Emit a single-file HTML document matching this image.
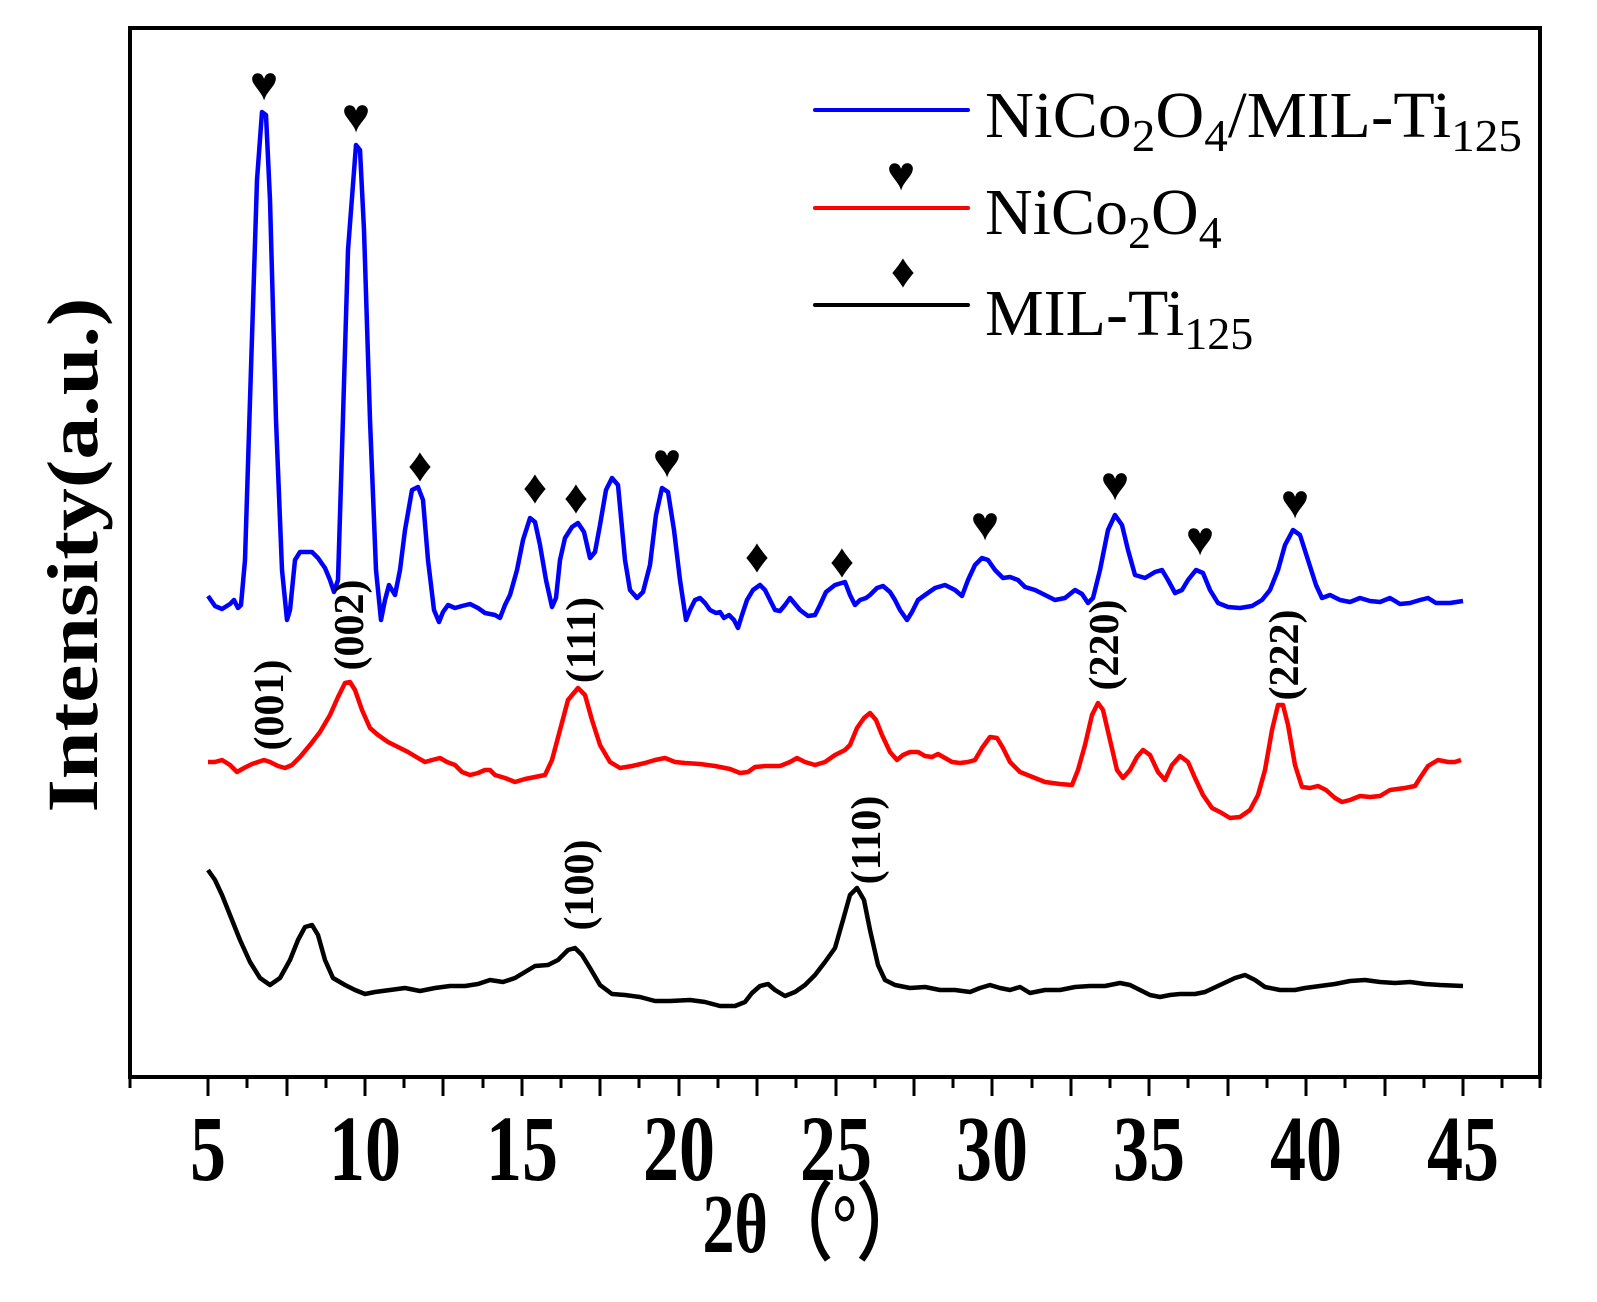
<!DOCTYPE html>
<html><head><meta charset="utf-8"><style>
html,body{margin:0;padding:0;background:#fff;}
svg{display:block;}
text{font-family:"Liberation Serif",serif;}
</style></head><body>
<svg width="1597" height="1302" viewBox="0 0 1597 1302" xmlns="http://www.w3.org/2000/svg">
<rect x="0" y="0" width="1597" height="1302" fill="#fff"/>
<rect x="130" y="28" width="1410" height="1049" fill="none" stroke="#000" stroke-width="4"/>
<g stroke="#000" stroke-width="3">
<line x1="208" y1="1077" x2="208" y2="1096"/><line x1="247" y1="1077" x2="247" y2="1088"/>
<line x1="287" y1="1077" x2="287" y2="1096"/><line x1="326" y1="1077" x2="326" y2="1088"/>
<line x1="365" y1="1077" x2="365" y2="1096"/><line x1="404" y1="1077" x2="404" y2="1088"/>
<line x1="443" y1="1077" x2="443" y2="1096"/><line x1="483" y1="1077" x2="483" y2="1088"/>
<line x1="522" y1="1077" x2="522" y2="1096"/><line x1="561" y1="1077" x2="561" y2="1088"/>
<line x1="600" y1="1077" x2="600" y2="1096"/><line x1="639" y1="1077" x2="639" y2="1088"/>
<line x1="679" y1="1077" x2="679" y2="1096"/><line x1="718" y1="1077" x2="718" y2="1088"/>
<line x1="757" y1="1077" x2="757" y2="1096"/><line x1="796" y1="1077" x2="796" y2="1088"/>
<line x1="836" y1="1077" x2="836" y2="1096"/><line x1="875" y1="1077" x2="875" y2="1088"/>
<line x1="914" y1="1077" x2="914" y2="1096"/><line x1="953" y1="1077" x2="953" y2="1088"/>
<line x1="992" y1="1077" x2="992" y2="1096"/><line x1="1032" y1="1077" x2="1032" y2="1088"/>
<line x1="1071" y1="1077" x2="1071" y2="1096"/><line x1="1110" y1="1077" x2="1110" y2="1088"/>
<line x1="1149" y1="1077" x2="1149" y2="1096"/><line x1="1188" y1="1077" x2="1188" y2="1088"/>
<line x1="1228" y1="1077" x2="1228" y2="1096"/><line x1="1267" y1="1077" x2="1267" y2="1088"/>
<line x1="1306" y1="1077" x2="1306" y2="1096"/><line x1="1345" y1="1077" x2="1345" y2="1088"/>
<line x1="1385" y1="1077" x2="1385" y2="1096"/><line x1="1424" y1="1077" x2="1424" y2="1088"/>
<line x1="1463" y1="1077" x2="1463" y2="1096"/><line x1="1502" y1="1077" x2="1502" y2="1088"/>
<line x1="130" y1="1077" x2="130" y2="1088"/><line x1="1540" y1="1077" x2="1540" y2="1088"/>
</g>
<g transform="translate(0,1180) scale(1,1.3)" font-weight="bold" font-size="72" text-anchor="middle">
<text x="208" y="0">5</text><text x="365" y="0">10</text><text x="522" y="0">15</text>
<text x="679" y="0">20</text><text x="836" y="0">25</text><text x="992" y="0">30</text>
<text x="1149" y="0">35</text><text x="1306" y="0">40</text><text x="1463" y="0">45</text>
</g>
<g transform="translate(812,1252) scale(1,1.3)" font-weight="bold" font-size="64" text-anchor="middle">
<text x="0" y="0">2θ（°）</text>
</g>
<g transform="translate(97,555) rotate(-90)" font-weight="bold" font-size="72" text-anchor="middle">
<text x="0" y="0" textLength="515" lengthAdjust="spacingAndGlyphs">Intensity(a.u.)</text>
</g>
<g fill="none" stroke-width="4.5" stroke-linejoin="round">
<polyline stroke="#0000ff" points="208,596 215,606 222,609 230,604 234,600 238,608 241,605 245,560 250,400 257,180 262,112 266,115 270,200 276,420 282,570 287,620 290,610 295,560 300,552 312,552 318,558 325,568 330,580 334,592 338,580 342,450 348,250 356,145 360,150 364,230 370,420 376,570 381,620 385,600 389,585 392,590 395,595 400,570 405,530 412,490 418,487 423,500 428,560 434,610 439,622 443,612 448,605 455,608 462,606 470,604 478,608 485,613 495,615 500,618 505,605 510,595 517,570 523,540 530,518 535,522 540,545 546,580 552,607 556,598 560,560 565,538 572,527 578,523 584,532 590,558 595,552 600,525 606,490 612,478 618,485 625,560 630,590 637,598 643,592 650,565 656,515 662,488 668,492 674,530 680,580 686,620 690,610 695,600 700,598 705,603 710,610 716,613 720,612 724,618 729,615 734,620 738,628 742,615 747,600 753,590 760,585 765,590 770,600 775,610 780,611 785,605 790,598 795,604 800,610 808,616 815,615 820,605 826,592 835,585 845,582 850,595 855,605 860,600 866,598 870,595 877,588 883,586 890,592 895,600 900,610 907,620 912,612 918,600 925,595 935,588 945,585 955,590 962,596 968,580 975,565 982,558 988,560 995,570 1003,578 1010,577 1018,580 1025,587 1035,590 1045,595 1055,600 1065,598 1075,590 1082,594 1088,603 1093,598 1100,570 1108,530 1115,515 1122,525 1128,550 1135,575 1145,578 1155,572 1162,570 1168,580 1175,593 1182,590 1188,580 1196,570 1203,573 1210,590 1218,603 1228,607 1240,608 1252,606 1262,600 1270,590 1278,570 1285,545 1293,530 1300,535 1308,560 1316,585 1322,598 1330,595 1340,600 1350,602 1360,598 1370,601 1380,602 1390,598 1400,604 1410,603 1420,600 1428,598 1436,603 1450,603 1463,601"/>
<polyline stroke="#ff0000" points="208,762 215,762 222,760 230,765 237,772 244,768 252,764 258,762 264,760 270,762 278,766 285,768 292,765 300,757 310,745 320,732 330,715 338,697 345,683 350,682 355,690 362,710 370,728 378,735 388,742 398,747 408,752 418,758 425,762 432,760 440,758 447,762 455,765 462,772 470,775 478,773 485,770 490,770 495,775 505,778 515,782 525,779 535,777 545,775 552,760 560,730 568,700 578,688 585,695 592,720 600,745 610,762 620,768 632,766 645,763 655,760 665,758 675,762 685,763 700,764 715,766 730,769 740,773 748,772 755,767 765,766 780,766 790,762 797,758 805,762 815,765 825,762 835,755 845,750 850,745 857,728 864,718 870,713 876,720 882,735 890,752 897,760 903,755 910,752 918,752 925,756 932,757 938,754 945,758 952,762 960,763 968,762 975,760 982,748 990,737 997,738 1003,748 1010,762 1020,772 1030,776 1045,782 1060,784 1072,785 1078,770 1085,745 1092,715 1098,703 1103,710 1110,740 1117,770 1123,778 1130,770 1137,757 1143,750 1150,755 1158,772 1165,780 1172,765 1180,756 1188,762 1195,778 1203,795 1212,808 1220,812 1230,818 1240,817 1250,810 1258,795 1265,770 1272,730 1278,705 1283,705 1288,725 1295,765 1302,787 1310,788 1318,786 1326,790 1335,798 1342,802 1350,800 1360,796 1370,797 1380,796 1390,790 1405,788 1415,786 1420,778 1428,766 1438,760 1448,762 1455,762 1461,760"/>
<polyline stroke="#000000" points="208,870 215,880 222,895 230,915 240,940 250,962 260,978 270,985 280,978 290,960 298,940 305,927 312,925 318,935 325,960 333,978 345,985 355,990 365,994 375,992 390,990 405,988 420,991 435,988 450,986 465,986 478,984 490,980 503,982 515,978 525,972 535,966 548,965 558,960 568,950 575,948 582,955 590,968 600,985 612,994 625,995 640,997 655,1001 670,1001 690,1000 705,1002 720,1006 735,1006 745,1002 752,993 760,986 768,984 775,990 785,996 795,992 805,985 815,975 825,962 835,948 843,920 850,895 857,888 864,900 870,930 878,965 885,980 895,985 910,988 925,987 940,990 955,990 970,992 980,988 990,985 1000,988 1010,990 1020,987 1030,993 1045,990 1060,990 1075,987 1090,986 1105,986 1120,983 1130,985 1140,990 1150,995 1160,997 1170,995 1180,994 1195,994 1205,992 1220,985 1235,978 1245,975 1255,980 1265,987 1280,990 1295,990 1305,988 1320,986 1335,984 1350,981 1365,980 1380,982 1395,983 1410,982 1425,984 1440,985 1463,986"/>
</g>
<g font-size="48" text-anchor="middle" fill="#000" font-family="DejaVu Sans, sans-serif">
<text x="264" y="100">♥</text><text x="356" y="132">♥</text><text x="667" y="477">♥</text>
<text x="985" y="540">♥</text><text x="1115" y="500">♥</text><text x="1200" y="555">♥</text>
<text x="1295" y="518">♥</text><text x="901" y="190">♥</text>
<text x="420" y="481">♦</text><text x="535" y="503">♦</text><text x="576" y="513">♦</text>
<text x="757" y="572">♦</text><text x="842" y="577">♦</text><text x="903" y="287">♦</text>
</g>
<g font-weight="bold" font-size="42" text-anchor="middle">
<text transform="translate(283,705) rotate(-90)">(001)</text>
<text transform="translate(363,625) rotate(-90)">(002)</text>
<text transform="translate(595,640) rotate(-90)">(111)</text>
<text transform="translate(1118,645) rotate(-90)">(220)</text>
<text transform="translate(1298,655) rotate(-90)">(222)</text>
<text transform="translate(593,885) rotate(-90)">(100)</text>
<text transform="translate(880,840) rotate(-90)">(110)</text>
</g>
<g stroke-width="4" stroke-linecap="round">
<line x1="815" y1="110" x2="968" y2="110" stroke="#0000ff"/>
<line x1="815" y1="208" x2="968" y2="208" stroke="#ff0000"/>
<line x1="815" y1="305" x2="968" y2="305" stroke="#000"/>
</g>
<g font-size="66">
<text x="985" y="137" textLength="537" lengthAdjust="spacingAndGlyphs">NiCo<tspan font-size="46" dy="14">2</tspan><tspan dy="-14">O</tspan><tspan font-size="46" dy="14">4</tspan><tspan dy="-14">/MIL-Ti</tspan><tspan font-size="46" dy="14">125</tspan></text>
<text x="985" y="234">NiCo<tspan font-size="46" dy="14">2</tspan><tspan dy="-14">O</tspan><tspan font-size="46" dy="14">4</tspan></text>
<text x="985" y="335">MIL-Ti<tspan font-size="46" dy="14">125</tspan></text>
</g>
</svg>
</body></html>
